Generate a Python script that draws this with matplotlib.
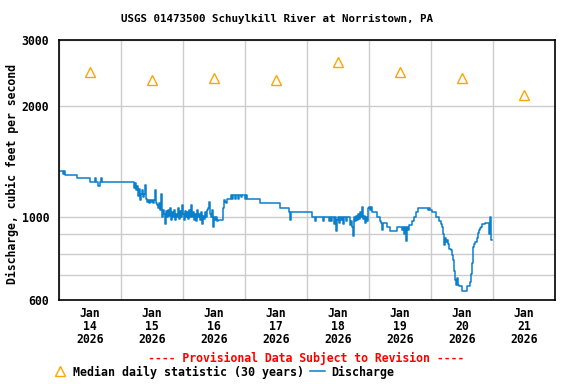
import numpy as np
import pandas as pd
import matplotlib
matplotlib.use("Agg")
import matplotlib.pyplot as plt
import matplotlib.dates as mdates
from matplotlib.ticker import FixedLocator, NullFormatter, FixedFormatter

start = pd.Timestamp("2026-01-14")

# discharge, step changes: hours after Jan 14 00:00, cfs
hours = [0.0, 1.5, 1.8, 2.3, 7.0, 12.0, 14.0, 14.3, 15.2, 15.8, 16.2, 16.5,
         28.6, 29.0, 29.4, 29.8, 30.2, 30.6, 31.0, 31.4, 31.7, 32.1, 32.5, 32.9,
         33.3, 33.7, 34.1, 34.5, 34.8, 35.2, 35.6, 36.0, 36.4, 36.8, 37.2, 37.5,
         37.9, 38.3, 38.7, 39.1, 39.5, 39.9, 40.3, 40.6, 41.0, 41.4, 41.8, 42.2,
         42.6, 43.0, 43.4, 43.7, 44.1, 44.5, 44.9, 45.3, 45.7, 46.1, 46.5, 46.8,
         47.2, 47.6, 48.0, 48.4, 48.8, 49.2, 49.5, 49.9, 50.3, 50.7, 51.1, 51.5,
         51.9, 52.3, 52.6, 53.0, 53.4, 53.8, 54.2, 54.6, 55.0, 55.4, 55.7, 56.1,
         56.5, 56.9, 57.3, 57.7, 58.1, 58.5, 58.8, 59.2, 59.6, 60.0, 60.4, 60.8,
         61.2, 61.5, 63.5, 63.9, 64.3, 64.6, 65.0,
         66.6, 67.0, 67.4, 68.1, 68.5, 69.3, 69.7, 70.5, 70.8, 72.0, 72.4, 72.8,
         77.8, 85.5, 89.0, 89.4, 89.8, 97.9, 99.1, 99.5, 102.2, 102.6,
         104.5, 104.9, 105.2, 105.6, 106.1, 106.5, 106.8, 107.2, 107.6, 108.0,
         108.4, 108.8, 109.2, 109.5, 109.9, 110.3, 111.1, 111.5, 112.6, 113.0,
         113.4, 113.8, 114.2, 114.6, 114.9, 115.3, 115.7, 116.1, 116.5, 116.9,
         117.3, 117.6, 118.0, 118.4, 118.8, 119.2, 119.6, 120.0, 120.4, 120.8,
         121.2, 123.1, 124.3, 124.7, 125.0, 125.4, 127.0, 128.1, 130.8, 132.8,
         133.2, 133.5, 133.9, 134.3, 134.7, 135.1, 135.5, 136.6, 137.4, 138.2,
         139.0, 142.8, 143.2, 143.6, 144.4, 145.9, 147.1, 147.9, 148.3, 148.6,
         149.0, 149.4, 149.8, 150.2, 150.6, 151.0, 151.7, 152.1, 152.5, 152.9,
         153.3, 153.7, 154.1, 154.5, 154.8, 156.0, 157.9, 159.1, 159.5, 159.9,
         160.3, 160.7, 161.1, 161.9, 162.3, 162.6, 163.0, 163.4, 163.8, 165.0,
         166.5, 166.9, 167.3, 167.6]
cfs = [1334, 1310, 1334, 1301, 1277, 1246, 1277, 1246, 1213, 1246, 1277, 1246,
       1246, 1200, 1238, 1185, 1215, 1140, 1190, 1114, 1160, 1185, 1135, 1160,
       1223, 1121, 1100, 1114, 1094, 1114, 1100, 1114, 1094, 1114, 1185, 1094,
       1080, 1060, 1094, 1050, 1156, 1000, 1047, 1020, 960, 1040, 1003, 1047,
       1010, 1060, 985, 1034, 1000, 1047, 985, 1020, 1003, 1060, 990, 1040,
       1000, 1080, 1020, 985, 1040, 1000, 1034, 990, 1047, 1003, 1080, 1000,
       1034, 985, 1020, 978, 1047, 1003, 1020, 985, 1034, 960, 1010, 990,
       1034, 1003, 1047, 1060, 1100, 1020, 1003, 1047, 943, 1003, 985, 1003,
       978, 985, 1060, 1114, 1100, 1094, 1121,
       1149, 1121, 1149, 1121, 1149, 1121, 1149, 1135, 1149, 1121, 1149, 1121,
       1094, 1060, 1034, 985, 1034, 1003, 978, 1003, 978, 1003,
       980, 1003, 980, 1003, 1003, 960, 1003, 920, 985, 1003,
       966, 1003, 985, 1003, 960, 1003, 978, 1003, 954, 978,
       943, 890, 1003, 978, 1010, 985, 1020, 991, 1034, 1003,
       1067, 991, 1010, 966, 1003, 978, 1060, 1067, 1047, 1067,
       1034, 1003, 978, 966, 925, 966, 943, 921, 943, 925,
       943, 900, 943, 866, 943, 925, 954, 978, 1003, 1034,
       1060, 1047, 1060, 1047, 1034, 1003, 978, 960, 943, 900,
       843, 880, 859, 870, 850, 825, 818, 795, 770, 720,
       680, 660, 688, 660, 654, 634, 654, 671, 705, 754,
       833, 850, 859, 880, 908, 925, 935, 943, 960, 966,
       900, 1003, 870, 870]

# median daily statistic (30 years), one per day at noon
median_days = pd.date_range("2026-01-14 12:00", periods=8, freq="D")
median_cfs = [2460, 2343, 2372, 2343, 2618, 2460, 2372, 2134]

times = start + pd.to_timedelta(hours, unit="h")

mono = "DejaVu Sans Mono"
plt.rcParams["font.family"] = mono
plt.rcParams["font.weight"] = "bold"

fig = plt.figure(figsize=(5.76, 3.84), dpi=100)
ax = fig.add_axes([59 / 576, 1 - 300 / 384, 496 / 576, 260 / 384])

tri, = ax.plot(median_days, median_cfs, linestyle="none", marker="^",
               markersize=7, markerfacecolor="none", markeredgecolor="#ffa500",
               markeredgewidth=1.0, label="Median daily statistic (30 years)")
q, = ax.plot(times, cfs, drawstyle="steps-post", color="#0a7fcc", lw=1.1,
             label="Discharge")

ax.set_yscale("log")
ax.set_ylim(600, 3000)
ax.yaxis.set_major_locator(FixedLocator([600, 1000, 2000, 3000]))
ax.yaxis.set_major_formatter(FixedFormatter(["600", "1000", "2000", "3000"]))
ax.yaxis.set_minor_locator(FixedLocator([700, 800, 900]))
ax.yaxis.set_minor_formatter(NullFormatter())

ax.set_xlim(pd.Timestamp("2026-01-14"), pd.Timestamp("2026-01-22"))
ax.xaxis.set_major_locator(mdates.HourLocator(byhour=[12]))
ax.xaxis.set_major_formatter(mdates.DateFormatter("%b\n%d\n%Y"))
ax.xaxis.set_minor_locator(mdates.DayLocator())

ax.grid(True, which="minor", axis="x", color="#cccccc", lw=1)
ax.grid(True, which="both", axis="y", color="#cccccc", lw=1)
ax.set_axisbelow(True)
ax.tick_params(which="both", length=0)
ax.tick_params(axis="x", pad=5, labelsize=8.3)
ax.tick_params(axis="y", pad=7, labelsize=8.3)
for lbl in ax.get_xticklabels():
    lbl.set_linespacing(1.0)
for s in ax.spines.values():
    s.set_linewidth(1.2)

fig.text(277 / 576, 1 - 19 / 384, "USGS 01473500 Schuylkill River at Norristown, PA",
         ha="center", va="center", fontsize=7.8, fontweight="bold")
fig.text(12 / 576, 1 - 174 / 384, "Discharge, cubic feet per second",
         rotation=90, ha="center", va="center", fontsize=8.3, fontweight="bold")
fig.text(306 / 576, 1 - 358 / 384, "---- Provisional Data Subject to Revision ----",
         ha="center", va="center", fontsize=8.3, color="red", fontweight="bold")

fig.legend(handles=[tri, q], loc="center left", bbox_to_anchor=(52 / 576, 1 - 372 / 384),
           ncol=2, frameon=False, fontsize=8.4, handlelength=1.3, handletextpad=0.5,
           columnspacing=0.5, borderpad=0, borderaxespad=0)

fig.savefig("out.png", dpi=100)
